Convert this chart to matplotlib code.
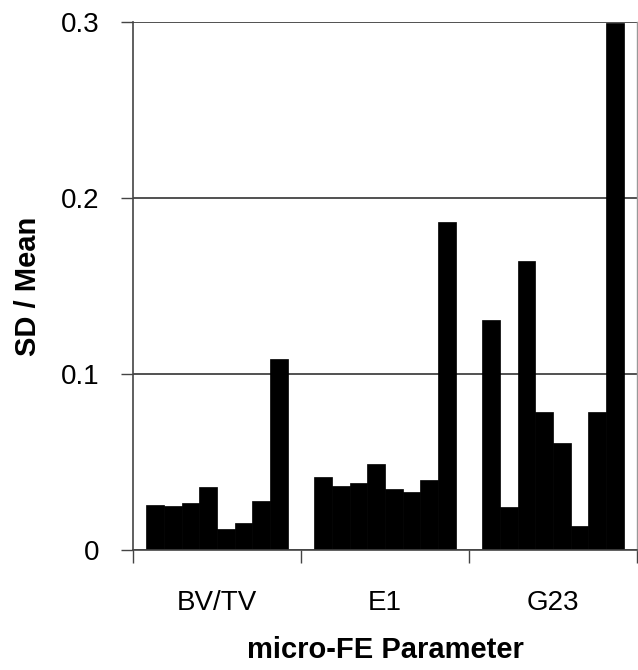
import numpy as np
import matplotlib.pyplot as plt

plt.rcParams['font.family'] = ['Liberation Sans', 'DejaVu Sans']

groups = ["BV/TV", "E1", "G23"]
bvtv = [0.0257, 0.0250, 0.0265, 0.0356, 0.0120, 0.0152, 0.0277, 0.1085]
e1 = [0.0417, 0.0365, 0.0379, 0.0487, 0.0347, 0.0331, 0.0398, 0.1866]
g23 = [0.1307, 0.0244, 0.1640, 0.0782, 0.0609, 0.0136, 0.0782, 0.2994]
values = [bvtv, e1, g23]

fig = plt.figure(figsize=(6.38, 6.70), dpi=100)
ax = fig.add_axes([133 / 638, 120 / 670, 504 / 638, 528 / 670])

n = 8
margin = 0.08
w = (1 - 2 * margin) / n
for gi, vals in enumerate(values):
    x = gi + margin + w * np.arange(n)
    ax.bar(x, vals, width=w, align='edge', color='black', edgecolor='black', linewidth=0.5)

ax.set_xlim(0, 3)
ax.set_ylim(0, 0.3)

ax.set_yticks([0, 0.1, 0.2, 0.3])
ax.set_yticklabels(["0", "0.1", "0.2", "0.3"])
ax.yaxis.grid(True, color='#333333', linewidth=1.2)
ax.set_axisbelow(True)

# category separators as major ticks, names as minor tick labels
ax.set_xticks([0, 1, 2, 3])
ax.set_xticklabels([])
ax.set_xticks([0.5, 1.5, 2.5], minor=True)
ax.set_xticklabels(groups, minor=True)
ax.tick_params(axis='x', which='minor', length=0, pad=29, labelsize=20)
ax.tick_params(axis='x', which='major', length=9, width=1, direction='out', color='#444444')
ax.tick_params(axis='y', length=9, width=1, direction='out', labelsize=20, pad=15, color='#444444')

for side in ['left', 'bottom']:
    ax.spines[side].set_color('#444444')
    ax.spines[side].set_linewidth(1.2)
ax.spines['top'].set_visible(False)
ax.spines['right'].set_color('#999999')
ax.spines['right'].set_linewidth(1)

ax.set_ylabel("SD / Mean", fontsize=21, fontweight='bold', labelpad=14)
ax.set_xlabel("micro-FE Parameter", fontsize=21, fontweight='bold', labelpad=14)

plt.savefig('out.png', dpi=100)
